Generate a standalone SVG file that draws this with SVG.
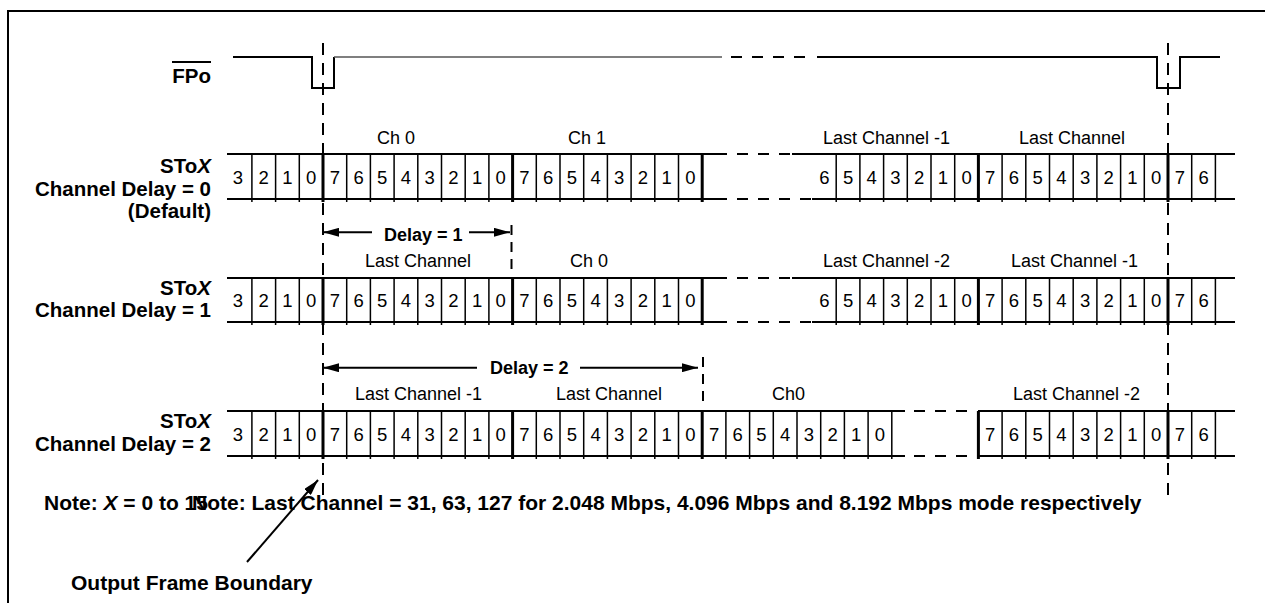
<svg xmlns="http://www.w3.org/2000/svg" width="1265" height="603" viewBox="0 0 1265 603">
<style>
.b{font-family:"Liberation Sans",Arial,sans-serif;font-weight:bold;font-size:20.5px;fill:#000}
.n{font-family:"Liberation Sans",Arial,sans-serif;font-weight:bold;font-size:21px;fill:#000}
.dl{font-family:"Liberation Sans",Arial,sans-serif;font-weight:bold;font-size:18px;fill:#000}
.r{font-family:"Liberation Sans",Arial,sans-serif;font-size:18px;fill:#000}
.d{font-family:"Liberation Sans",Arial,sans-serif;font-size:18.5px;fill:#000;text-anchor:middle}
.ln{stroke:#000;stroke-width:2;fill:none}
.thin{stroke:#000;stroke-width:1.5;fill:none}
.thick{stroke:#000;stroke-width:3;fill:none}
.dash{stroke:#000;stroke-width:2;fill:none;stroke-dasharray:12 8}
.gap{stroke:#000;stroke-width:2;fill:none;stroke-dasharray:11 10}
.arr{stroke:#000;stroke-width:2;fill:none;marker-end:url(#ah)}
</style>
<defs>
<marker id="ah" markerUnits="userSpaceOnUse" markerWidth="17" markerHeight="9" refX="16" refY="4.5" orient="auto" viewBox="0 0 17 9"><path d="M0,0 L16,4.5 L0,9 z" fill="#000"/></marker>
</defs>
<rect width="1265" height="603" fill="#fff"/>
<path class="ln" d="M8,603V11H1265"/>

<g id="fpo">
<text class="b" x="211" y="83" text-anchor="end">FPo</text>
<path class="ln" d="M172,62H211"/>
<path class="ln" d="M233,57H312V88H334V57"/>
<path d="M334,57H722" stroke="#555" stroke-width="1.5" fill="none"/>
<path class="gap" d="M731,57H813"/>
<path class="ln" d="M817,57H1157V88H1180V57H1220"/>
</g>

<g id="row-delay0">
<text class="b" x="211" y="173" text-anchor="end">STo<tspan font-style="italic">X</tspan></text>
<text class="b" x="211" y="196" text-anchor="end">Channel Delay = 0</text>
<text class="b" x="211" y="218" text-anchor="end">(Default)</text>
<g class="r">
<text x="377" y="144">Ch 0</text>
<text x="568" y="144">Ch 1</text>
<text x="823" y="144">Last Channel -1</text>
<text x="1019" y="144">Last Channel</text>
</g>
<path class="ln" d="M227,154H727M792,154H1235M227,199H727M812,199H1235"/>
<path class="gap" d="M737,154H792M737,199H812"/>
<path class="thin" d="M251.9,154V202M275.6,154V202M299.3,154V202M346.7,154V202M370.4,154V202M394.1,154V202M417.8,154V202M441.5,154V202M465.2,154V202M488.9,154V202M536.3,154V202M560,154V202M583.7,154V202M607.4,154V202M631.1,154V202M654.8,154V202M678.5,154V202M836.2,154V202M859.9,154V202M883.6,154V202M907.3,154V202M931,154V202M954.7,154V202M1002.1,154V202M1025.8,154V202M1049.5,154V202M1073.2,154V202M1096.9,154V202M1120.6,154V202M1144.3,154V202M1191.7,154V202M1215.4,154V202"/>
<path class="thick" d="M323,154V202M512.6,154V202M702.2,154V202M978.4,154V202M1168,154V202"/>
<g class="d">
<text x="238" y="184">3</text><text x="263.75" y="184">2</text><text x="287.45" y="184">1</text><text x="311.15" y="184">0</text>
<text x="334.85" y="184">7</text><text x="358.55" y="184">6</text><text x="382.25" y="184">5</text><text x="405.95" y="184">4</text><text x="429.65" y="184">3</text><text x="453.35" y="184">2</text><text x="477.05" y="184">1</text><text x="500.75" y="184">0</text>
<text x="524.45" y="184">7</text><text x="548.15" y="184">6</text><text x="571.85" y="184">5</text><text x="595.55" y="184">4</text><text x="619.25" y="184">3</text><text x="642.95" y="184">2</text><text x="666.65" y="184">1</text><text x="690.35" y="184">0</text>
<text x="824.35" y="184">6</text><text x="848.05" y="184">5</text><text x="871.75" y="184">4</text><text x="895.45" y="184">3</text><text x="919.15" y="184">2</text><text x="942.85" y="184">1</text><text x="966.55" y="184">0</text>
<text x="990.25" y="184">7</text><text x="1013.95" y="184">6</text><text x="1037.65" y="184">5</text><text x="1061.35" y="184">4</text><text x="1085.05" y="184">3</text><text x="1108.75" y="184">2</text><text x="1132.45" y="184">1</text><text x="1156.15" y="184">0</text>
<text x="1179.85" y="184">7</text><text x="1203.55" y="184">6</text>
</g>
</g>

<g id="row-delay1">
<text class="b" x="211" y="295" text-anchor="end">STo<tspan font-style="italic">X</tspan></text>
<text class="b" x="211" y="317" text-anchor="end">Channel Delay = 1</text>
<text class="dl" x="384" y="241">Delay = 1</text>
<g class="r">
<text x="365" y="267">Last Channel</text>
<text x="570" y="267">Ch 0</text>
<text x="823" y="267">Last Channel -2</text>
<text x="1011" y="267">Last Channel -1</text>
</g>
<path class="ln" d="M227,278H727M792,278H1235M227,322H727M812,322H1235"/>
<path class="gap" d="M737,278H792M737,322H812"/>
<path class="thin" d="M251.9,278V325M275.6,278V325M299.3,278V325M346.7,278V325M370.4,278V325M394.1,278V325M417.8,278V325M441.5,278V325M465.2,278V325M488.9,278V325M536.3,278V325M560,278V325M583.7,278V325M607.4,278V325M631.1,278V325M654.8,278V325M678.5,278V325M836.2,278V325M859.9,278V325M883.6,278V325M907.3,278V325M931,278V325M954.7,278V325M1002.1,278V325M1025.8,278V325M1049.5,278V325M1073.2,278V325M1096.9,278V325M1120.6,278V325M1144.3,278V325M1191.7,278V325M1215.4,278V325"/>
<path class="thick" d="M323,278V325M512.6,278V325M702.2,278V325M978.4,278V325M1168,278V325"/>
<g class="d">
<text x="238" y="307">3</text><text x="263.75" y="307">2</text><text x="287.45" y="307">1</text><text x="311.15" y="307">0</text>
<text x="334.85" y="307">7</text><text x="358.55" y="307">6</text><text x="382.25" y="307">5</text><text x="405.95" y="307">4</text><text x="429.65" y="307">3</text><text x="453.35" y="307">2</text><text x="477.05" y="307">1</text><text x="500.75" y="307">0</text>
<text x="524.45" y="307">7</text><text x="548.15" y="307">6</text><text x="571.85" y="307">5</text><text x="595.55" y="307">4</text><text x="619.25" y="307">3</text><text x="642.95" y="307">2</text><text x="666.65" y="307">1</text><text x="690.35" y="307">0</text>
<text x="824.35" y="307">6</text><text x="848.05" y="307">5</text><text x="871.75" y="307">4</text><text x="895.45" y="307">3</text><text x="919.15" y="307">2</text><text x="942.85" y="307">1</text><text x="966.55" y="307">0</text>
<text x="990.25" y="307">7</text><text x="1013.95" y="307">6</text><text x="1037.65" y="307">5</text><text x="1061.35" y="307">4</text><text x="1085.05" y="307">3</text><text x="1108.75" y="307">2</text><text x="1132.45" y="307">1</text><text x="1156.15" y="307">0</text>
<text x="1179.85" y="307">7</text><text x="1203.55" y="307">6</text>
</g>
</g>

<g id="row-delay2">
<text class="b" x="211" y="428" text-anchor="end">STo<tspan font-style="italic">X</tspan></text>
<text class="b" x="211" y="451" text-anchor="end">Channel Delay = 2</text>
<text class="dl" x="490" y="374">Delay = 2</text>
<g class="r">
<text x="355" y="400">Last Channel -1</text>
<text x="556" y="400">Last Channel</text>
<text x="772" y="400">Ch0</text>
<text x="1013" y="400">Last Channel -2</text>
</g>
<path class="ln" d="M227,411H905M978,411H1235M227,456H905M978,456H1235"/>
<path class="gap" d="M914,411H975M914,456H975"/>
<path class="thin" d="M251.9,411V459M275.6,411V459M299.3,411V459M346.7,411V459M370.4,411V459M394.1,411V459M417.8,411V459M441.5,411V459M465.2,411V459M488.9,411V459M536.3,411V459M560,411V459M583.7,411V459M607.4,411V459M631.1,411V459M654.8,411V459M678.5,411V459M725.9,411V459M749.6,411V459M773.3,411V459M797,411V459M820.7,411V459M844.4,411V459M868.1,411V459M891.8,411V459M1002.1,411V459M1025.8,411V459M1049.5,411V459M1073.2,411V459M1096.9,411V459M1120.6,411V459M1144.3,411V459M1191.7,411V459M1215.4,411V459"/>
<path class="thick" d="M323,411V459M512.6,411V459M702.2,411V459M978.4,411V459M1168,411V459"/>
<g class="d">
<text x="238" y="440.5">3</text><text x="263.75" y="440.5">2</text><text x="287.45" y="440.5">1</text><text x="311.15" y="440.5">0</text>
<text x="334.85" y="440.5">7</text><text x="358.55" y="440.5">6</text><text x="382.25" y="440.5">5</text><text x="405.95" y="440.5">4</text><text x="429.65" y="440.5">3</text><text x="453.35" y="440.5">2</text><text x="477.05" y="440.5">1</text><text x="500.75" y="440.5">0</text>
<text x="524.45" y="440.5">7</text><text x="548.15" y="440.5">6</text><text x="571.85" y="440.5">5</text><text x="595.55" y="440.5">4</text><text x="619.25" y="440.5">3</text><text x="642.95" y="440.5">2</text><text x="666.65" y="440.5">1</text><text x="690.35" y="440.5">0</text>
<text x="714.05" y="440.5">7</text><text x="737.75" y="440.5">6</text><text x="761.45" y="440.5">5</text><text x="785.15" y="440.5">4</text><text x="808.85" y="440.5">3</text><text x="832.55" y="440.5">2</text><text x="856.25" y="440.5">1</text><text x="879.95" y="440.5">0</text>
<text x="990.25" y="440.5">7</text><text x="1013.95" y="440.5">6</text><text x="1037.65" y="440.5">5</text><text x="1061.35" y="440.5">4</text><text x="1085.05" y="440.5">3</text><text x="1108.75" y="440.5">2</text><text x="1132.45" y="440.5">1</text><text x="1156.15" y="440.5">0</text>
<text x="1179.85" y="440.5">7</text><text x="1203.55" y="440.5">6</text>
</g>
</g>

<g id="notes">
<text class="n" x="44" y="510">Note: <tspan font-style="italic">X</tspan> = 0 to 15</text>
<text class="n" x="192" y="510">Note: Last Channel = 31, 63, 127 for 2.048 Mbps, 4.096 Mbps and 8.192 Mbps mode respectively</text>
<text class="n" x="71" y="590">Output Frame Boundary</text>
</g>

<g id="connectors">
<path class="dash" d="M323,43V497M1168,43V497"/>
<path class="gap" d="M511.5,225V276" style="stroke-dasharray:10 7"/>
<path class="gap" d="M703,357V404" style="stroke-dasharray:10 7"/>
<path class="arr" d="M372,232.3H323"/>
<path class="arr" d="M469,232.3H510"/>
<path class="arr" d="M477,367.7H323"/>
<path class="arr" d="M580,367.7H698"/>
<path class="arr" d="M247,562L318,480"/>
</g>
</svg>
